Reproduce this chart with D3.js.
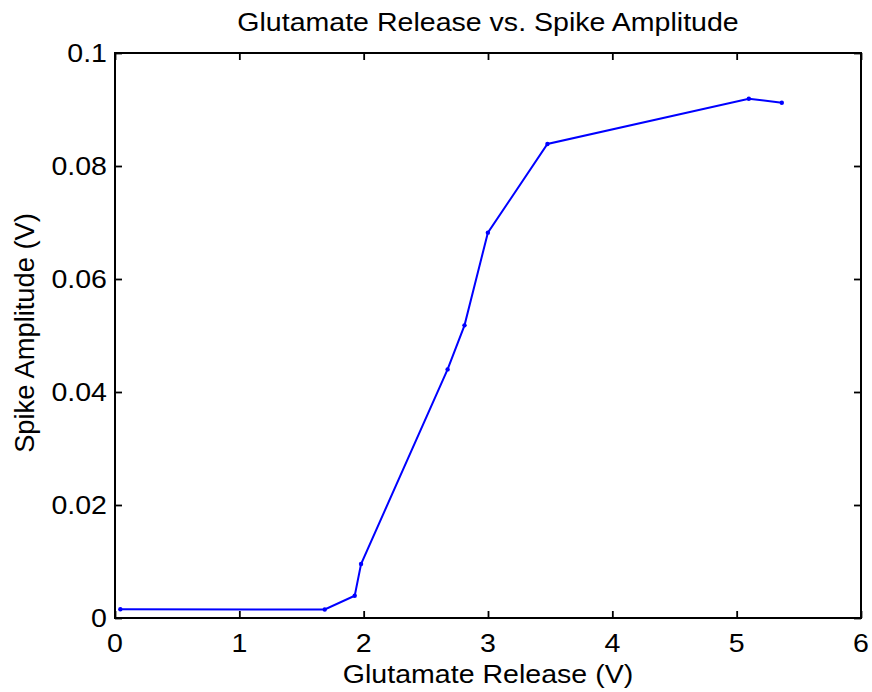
<!DOCTYPE html>
<html>
<head>
<meta charset="utf-8">
<script src="https://cdn.jsdelivr.net/npm/d3@7"></script>
<style>
  body { margin: 0; background: #fff; }
  svg text { font-family: "Liberation Sans", Arial, Helvetica, sans-serif; fill: #000; }
</style>
</head>
<body>
<div id="chart"></div>
<script>
// data
var glutamate = [0.043, 1.687, 1.928, 1.979, 2.675, 2.811, 2.999, 3.478, 5.098, 5.363];
var spikeAmp  = [0.00154, 0.0015, 0.00395, 0.00956, 0.0440, 0.0518, 0.0682, 0.0839, 0.0919, 0.0912];
var xTicks = [0, 1, 2, 3, 4, 5, 6];
var yTicks = [0, 0.02, 0.04, 0.06, 0.08, 0.1];
var yTickLabels = ["0", "0.02", "0.04", "0.06", "0.08", "0.1"];

var width = 872, height = 692;
var plotL = 115, plotR = 861, plotT = 53, plotB = 618;
var fs = 25.5, sx = 1.12; // horizontal text in the reference is a bit wide

var svg = d3.select("#chart").append("svg")
    .attr("width", width)
    .attr("height", height);

var x = d3.scaleLinear().domain([0, 6]).range([plotL, plotR]);
var y = d3.scaleLinear().domain([0, 0.1]).range([plotB, plotT]);

// ticks pointing inward on all four sides
function tickAxis(axis, tr) {
    var g = svg.append("g").attr("transform", tr).call(axis);
    g.selectAll("text").remove();
    g.select(".domain").remove();
    g.selectAll("line").attr("stroke", "#000").attr("stroke-width", 1.8);
    return g;
}
tickAxis(d3.axisBottom(x).tickValues(xTicks).tickSize(-7), "translate(0," + plotB + ")");
tickAxis(d3.axisTop(x).tickValues(xTicks).tickSize(-7), "translate(0," + plotT + ")");
tickAxis(d3.axisLeft(y).tickValues(yTicks).tickSize(-7), "translate(" + plotL + ",0)");
tickAxis(d3.axisRight(y).tickValues(yTicks).tickSize(-7), "translate(" + plotR + ",0)");

svg.append("rect")
    .attr("x", plotL).attr("y", plotT)
    .attr("width", plotR - plotL).attr("height", plotB - plotT)
    .attr("fill", "none").attr("stroke", "#000").attr("stroke-width", 2);

// tick labels
svg.selectAll(".xlab").data(xTicks).enter().append("text")
    .attr("class", "xlab")
    .attr("transform", function(d) { return "translate(" + x(d) + ",652) scale(" + sx + ",1)"; })
    .attr("text-anchor", "middle")
    .style("font-size", fs + "px")
    .text(function(d) { return d; });

svg.selectAll(".ylab").data(yTicks).enter().append("text")
    .attr("class", "ylab")
    .attr("transform", function(d) { return "translate(107," + y(d) + ") scale(" + sx + ",1)"; })
    .attr("text-anchor", "end")
    .attr("dy", "0.35em")
    .style("font-size", fs + "px")
    .text(function(d, i) { return yTickLabels[i]; });

// line + markers
var pts = glutamate.map(function(g, i) { return [g, spikeAmp[i]]; });
var line = d3.line().x(function(d) { return x(d[0]); }).y(function(d) { return y(d[1]); });

svg.append("path")
    .datum(pts)
    .attr("d", line)
    .attr("fill", "none")
    .attr("stroke", "#0000ff")
    .attr("stroke-width", 2);

svg.selectAll(".dot").data(pts).enter().append("circle")
    .attr("class", "dot")
    .attr("cx", function(d) { return x(d[0]); })
    .attr("cy", function(d) { return y(d[1]); })
    .attr("r", 2.2)
    .attr("fill", "#0000ff");

// titles
var cx = (plotL + plotR) / 2;
svg.append("text")
    .attr("transform", "translate(" + cx + ",31) scale(" + sx + ",1)")
    .attr("text-anchor", "middle")
    .style("font-size", fs + "px")
    .text("Glutamate Release vs. Spike Amplitude");

svg.append("text")
    .attr("transform", "translate(" + cx + ",683) scale(" + sx + ",1)")
    .attr("text-anchor", "middle")
    .style("font-size", fs + "px")
    .text("Glutamate Release (V)");

svg.append("text")
    .attr("transform", "translate(34,333) rotate(-90)")
    .attr("text-anchor", "middle")
    .style("font-size", "27.3px")
    .text("Spike Amplitude (V)");
</script>
</body>
</html>
